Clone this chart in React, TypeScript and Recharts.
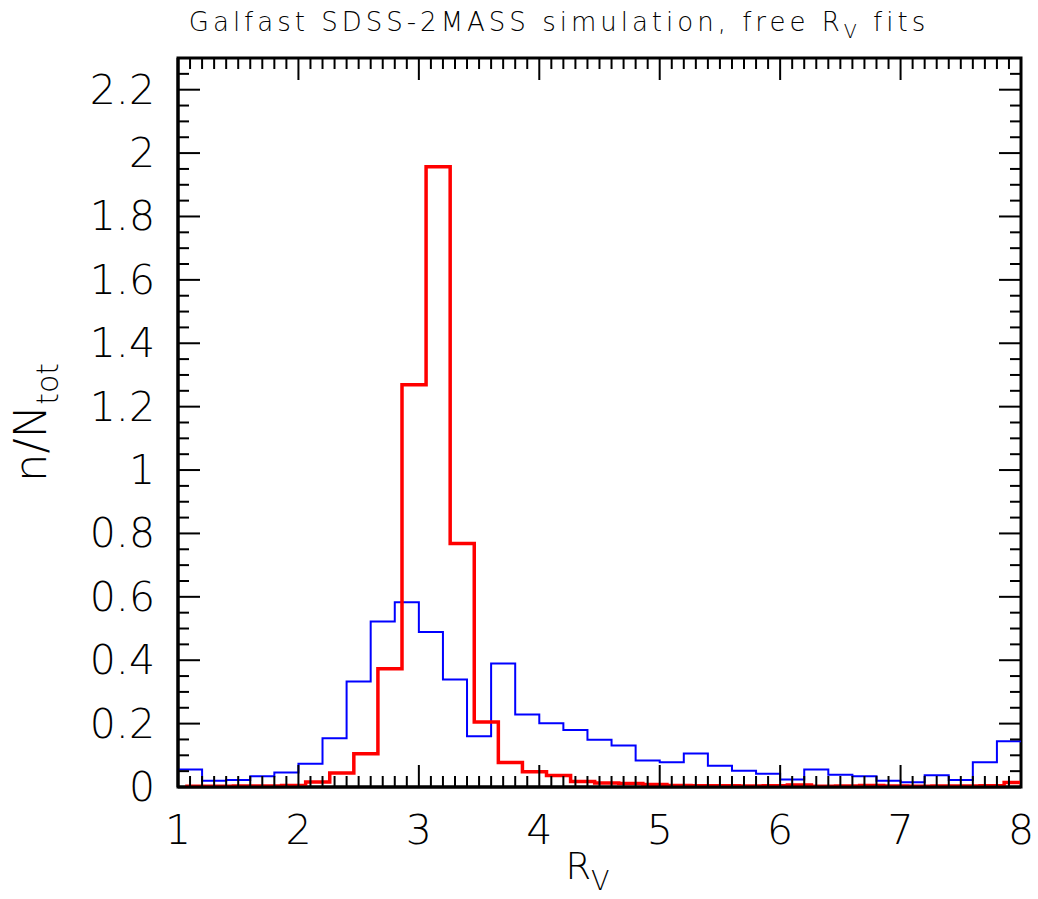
import React from 'react';
import { LineChart, Line, XAxis, YAxis, Customized } from 'recharts';

// ---- data ----
const BIN_WIDTH = 0.2;
const BLUE_START = 1.0;
const RED_START = 1.06;

const blueValues = [
  0.055, 0.020, 0.022, 0.034, 0.046, 0.073, 0.154, 0.333, 0.522, 0.583,
  0.489, 0.339, 0.160, 0.390, 0.229, 0.201, 0.180, 0.149, 0.131, 0.084,
  0.078, 0.106, 0.067, 0.051, 0.042, 0.024, 0.055, 0.039, 0.034, 0.020,
  0.015, 0.037, 0.022, 0.078, 0.144,
];

const redValues = [
  0.002, 0.002, 0.003, 0.003, 0.005, 0.016, 0.044, 0.105, 0.373, 1.269,
  1.957, 0.768, 0.205, 0.077, 0.048, 0.036, 0.017, 0.013, 0.011, 0.008,
  0.005, 0.004, 0.004, 0.003, 0.004, 0.006, 0.002, 0.003, 0.005, 0.003,
  0.002, 0.003, 0.003, 0.004, 0.014,
];

const xMajorTicks = [1, 2, 3, 4, 5, 6, 7, 8];
const yMajorTicks = [0, 0.2, 0.4, 0.6, 0.8, 1, 1.2, 1.4, 1.6, 1.8, 2, 2.2];
const X_DOMAIN: [number, number] = [1, 8];
const Y_DOMAIN: [number, number] = [0, 2.3];
const X_MINOR_PER_UNIT = 10;
const Y_MINOR_PER_UNIT = 20;

const TITLE_MAIN = 'Galfast SDSS-2MASS simulation, free R';
const TITLE_SUB = 'V';
const TITLE_END = ' fits';

function toSteps(start: number, values: number[]) {
  const pts = values.map((v, i) => ({ x: +(start + i * BIN_WIDTH).toFixed(4), y: v }));
  pts.push({ x: +(start + values.length * BIN_WIDTH).toFixed(4), y: values[values.length - 1] });
  return pts;
}

const blueData = toSteps(BLUE_START, blueValues);
const redData = toSteps(RED_START, redValues);

const xTicks: number[] = [];
for (let i = X_DOMAIN[0] * X_MINOR_PER_UNIT; i <= X_DOMAIN[1] * X_MINOR_PER_UNIT; i++) xTicks.push(i / X_MINOR_PER_UNIT);
const yTicks: number[] = [];
for (let i = 0; i <= Math.round(Y_DOMAIN[1] * Y_MINOR_PER_UNIT); i++) yTicks.push(i / Y_MINOR_PER_UNIT);

// ---- layout ----
const W = 1038;
const H = 899;
const M = { top: 58, right: 17, bottom: 0, left: 0 };
const YAXIS_W = 178;
const XAXIS_H = 112;
const PLOT_W = W - M.left - M.right - YAXIS_W;
const PLOT_H = H - M.top - M.bottom - XAXIS_H;
const PLOT_X = M.left + YAXIS_W;
const PLOT_Y = M.top;

const FONT = '"DejaVu Sans", sans-serif';
const WEIGHT = 200;
const TICK_FONT = 41;

const isMajorX = (v: number) => xMajorTicks.some((t) => Math.abs(t - v) < 1e-6);
const isMajorY = (v: number) => yMajorTicks.some((t) => Math.abs(t - v) < 1e-6);

const XTick = (props: any) => {
  const { x, y, payload } = props;
  const v = payload.value as number;
  const major = isMajorX(v);
  const len = major ? 22 : 11;
  return (
    <g>
      <line x1={x} x2={x} y1={y} y2={y - len} stroke="#000" strokeWidth={2} />
      <line x1={x} x2={x} y1={y - PLOT_H} y2={y - PLOT_H + len} stroke="#000" strokeWidth={2} />
      {major && (
        <text x={x} y={y + 57} textAnchor="middle" fontFamily={FONT} fontWeight={WEIGHT} fontSize={TICK_FONT} fill="#000">
          {String(v)}
        </text>
      )}
    </g>
  );
};

const YTick = (props: any) => {
  const { x, y, payload } = props;
  const v = payload.value as number;
  const major = isMajorY(v);
  const len = major ? 22 : 11;
  return (
    <g>
      <line x1={x} x2={x + len} y1={y} y2={y} stroke="#000" strokeWidth={2} />
      <line x1={x + PLOT_W} x2={x + PLOT_W - len} y1={y} y2={y} stroke="#000" strokeWidth={2} />
      {major && (
        <text x={x - 23} y={y + 14} textAnchor="end" fontFamily={FONT} fontWeight={WEIGHT} fontSize={TICK_FONT} fill="#000">
          {String(v)}
        </text>
      )}
    </g>
  );
};

const Decorations = () => (
  <g>
    <rect x={PLOT_X} y={PLOT_Y} width={PLOT_W} height={PLOT_H} fill="none" stroke="#000" strokeWidth={3} />
    <text x={559} y={31} textAnchor="middle" fontFamily={FONT} fontWeight={WEIGHT} fontSize={26} letterSpacing={4} fill="#000">
      {TITLE_MAIN}
      <tspan fontSize={19} dy={7}>{TITLE_SUB}</tspan>
      <tspan dy={-7}>{TITLE_END}</tspan>
    </text>
    <text x={PLOT_X + PLOT_W / 2 - 12} y={879} textAnchor="middle" fontFamily={FONT} fontWeight={WEIGHT} fontSize={37} fill="#000">
      R<tspan fontSize={27} dy={11}>V</tspan>
    </text>
    <text
      x={46}
      y={PLOT_Y + PLOT_H / 2}
      transform={`rotate(-90 46 ${PLOT_Y + PLOT_H / 2})`}
      textAnchor="middle"
      fontFamily={FONT}
      fontWeight={WEIGHT}
      fontSize={45}
      fill="#000"
    >
      n/N<tspan fontSize={30} dy={12}>tot</tspan>
    </text>
  </g>
);

export default function App() {
  return (
    <div style={{ position: 'absolute', left: 0, top: 0, background: '#fff' }}>
      <LineChart width={W} height={H} margin={M}>
        <XAxis
          type="number"
          dataKey="x"
          domain={X_DOMAIN}
          allowDataOverflow
          ticks={xTicks}
          interval={0}
          tickSize={0}
          tickMargin={0}
          tickLine={false}
          axisLine={{ stroke: '#000', strokeWidth: 3 }}
          tick={<XTick />}
          height={XAXIS_H}
        />
        <YAxis
          type="number"
          domain={Y_DOMAIN}
          allowDataOverflow
          ticks={yTicks}
          interval={0}
          tickSize={0}
          tickMargin={0}
          tickLine={false}
          axisLine={{ stroke: '#000', strokeWidth: 3 }}
          tick={<YTick />}
          width={YAXIS_W}
        />
        <Line
          data={blueData}
          dataKey="y"
          type="stepAfter"
          stroke="#0000ff"
          strokeWidth={2}
          dot={false}
          isAnimationActive={false}
        />
        <Line
          data={redData}
          dataKey="y"
          type="stepAfter"
          stroke="#ff0000"
          strokeWidth={3.5}
          dot={false}
          isAnimationActive={false}
        />
        <Customized component={<Decorations />} />
      </LineChart>
    </div>
  );
}
